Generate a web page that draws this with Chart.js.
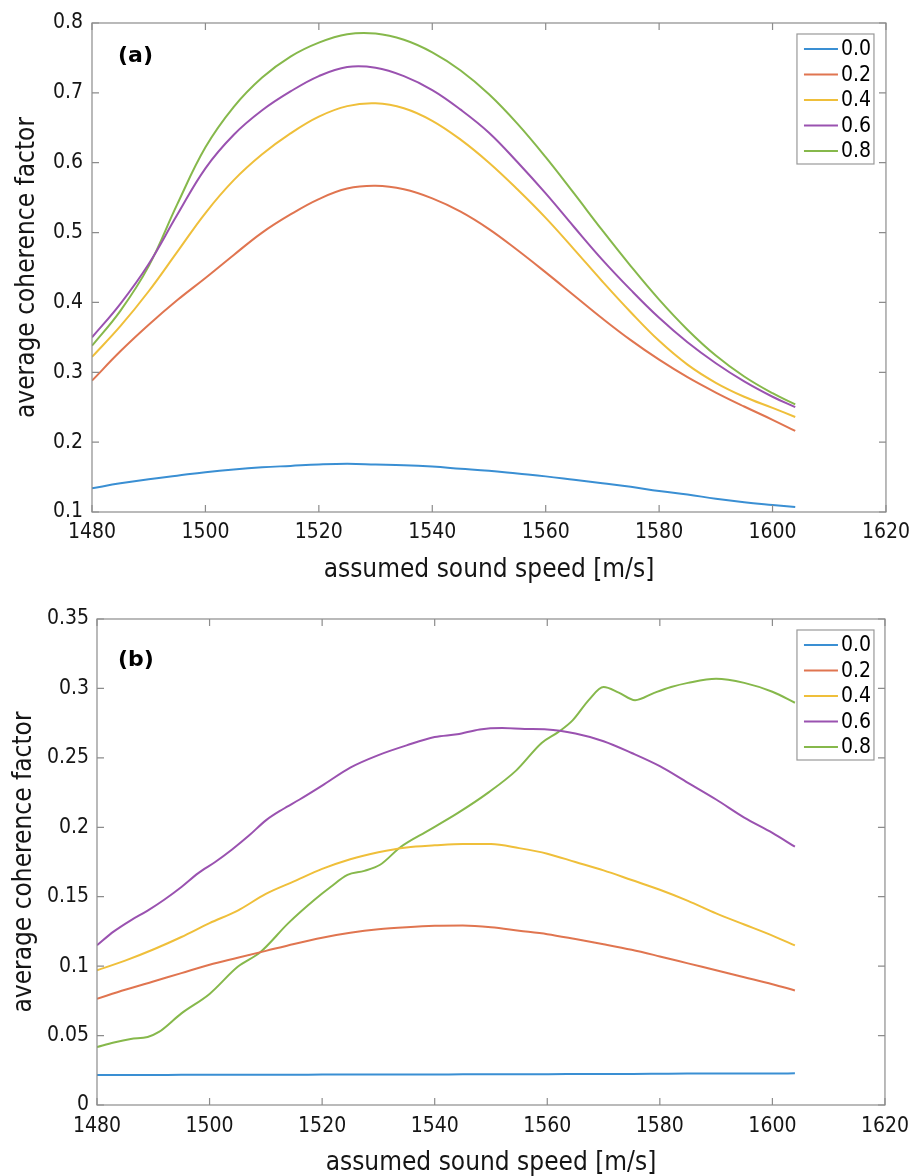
<!DOCTYPE html>
<html><head><meta charset="utf-8">
<script src="https://cdn.jsdelivr.net/npm/chart.js@4.4.1/dist/chart.umd.min.js"></script>
<style>
html,body{margin:0;padding:0;background:#fff;width:918px;height:1176px;overflow:hidden}
canvas{position:absolute;left:0}
</style></head>
<body>
<canvas id="ca" width="918" height="588" style="top:0"></canvas>
<canvas id="cb" width="918" height="588" style="top:588px"></canvas>
<script>
// ---------- data ----------
const seriesLabels = ['0.0', '0.2', '0.4', '0.6', '0.8'];
const seriesColors = ['#3a8fd3', '#e07550', '#efbf3a', '#9a52b0', '#86b84b'];
const xTicks = [1480, 1500, 1520, 1540, 1560, 1580, 1600, 1620];
const yTicksA = [0.1, 0.2, 0.3, 0.4, 0.5, 0.6, 0.7, 0.8];
const yTicksB = [0, 0.05, 0.1, 0.15, 0.2, 0.25, 0.3, 0.35];

// panel (a)
const speedsA = [1480,1485,1490,1495,1500,1505,1510,1515,1520,1525,1530,1535,1540,1545,1550,1555,1560,1565,1570,1575,1580,1585,1590,1595,1600,1604];
const cfA00 = [.134,.141,.147,.152,.157,.161,.164,.166,.168,.169,.168,.167,.165,.162,.159,.155,.151,.146,.141,.136,.130,.125,.119,.114,.110,.107];
const cfA02 = [.288,.330,.368,.403,.435,.468,.500,.526,.548,.563,.567,.562,.549,.530,.505,.475,.443,.410,.377,.346,.318,.293,.271,.251,.232,.216];
const cfA04 = [.322,.366,.416,.472,.528,.575,.612,.642,.666,.681,.685,.678,.660,.633,.600,.562,.521,.476,.430,.386,.345,.311,.285,.265,.249,.236];
const cfA06 = [.350,.398,.455,.525,.592,.640,.675,.702,.724,.737,.736,.724,.704,.676,.643,.601,.556,.508,.461,.418,.378,.343,.313,.287,.265,.250];
const cfA08 = [.338,.388,.452,.540,.622,.680,.722,.752,.772,.784,.785,.776,.758,.732,.698,.656,.608,.556,.503,.452,.404,.361,.324,.294,.270,.254];

// panel (b)
const speedsB = [1480,1485,1490,1495,1500,1505,1510,1515,1520,1525,1530,1535,1540,1545,1550,1555,1560,1565,1570,1575,1580,1585,1590,1595,1600,1604];
const cfB00 = [.0216,.0216,.0216,.0217,.0217,.0217,.0218,.0218,.0219,.0219,.022,.022,.022,.0221,.0221,.0222,.0222,.0223,.0224,.0224,.0225,.0226,.0226,.0227,.0227,.0228];
const cfB02 = [.0765,.083,.089,.095,.101,.106,.111,.116,.1205,.124,.1265,.128,.129,.1292,.128,.1255,.123,.1195,.1158,.1118,.107,.102,.097,.092,.087,.0825];
const cfB04 = [.097,.104,.112,.121,.131,.140,.152,.161,.170,.177,.182,.1855,.187,.188,.188,.185,.181,.175,.169,.162,.155,.147,.138,.130,.122,.115];
const speedsB06 = [1480,1483,1486,1489,1492,1495,1498,1501,1504,1507,1510,1513,1516,1520,1525,1530,1535,1540,1544,1548,1552,1556,1560,1565,1570,1575,1580,1585,1590,1595,1600,1604];
const cfB06 = [.115,.125,.133,.140,.148,.157,.167,.175,.184,.194,.205,.213,.220,.230,.243,.252,.259,.265,.267,.2705,.2715,.2708,.2705,.2675,.262,.2535,.244,.232,.220,.207,.196,.186];
const speedsB08 = [1480,1483,1486,1489,1491,1495,1500,1505,1509,1514,1518.7,1521.5,1524.5,1527.5,1530.3,1534,1539,1544,1549.7,1554.5,1559,1562,1564.5,1567.4,1570,1572.7,1575.6,1579,1582,1585,1590,1595,1600,1604];
const cfB08 = [.0418,.045,.0475,.049,.0526,.066,.080,.0995,.110,.131,.148,.157,.1657,.1686,.173,.186,.198,.210,.2255,.241,.2607,.2687,.277,.2918,.301,.297,.2915,.2968,.301,.304,.307,.304,.2976,.2897];

// ---------- helpers ----------
const FONT = "'DejaVu Sans Condensed', 'DejaVu Sans', sans-serif";
const TXT = '#151515';
const FRAME = '#8c8c8c';

function pts(xs, ys) { return xs.map((x, i) => ({x: x, y: ys[i]})); }
function ds(i, xs, ys, smooth) {
  const o = { label: seriesLabels[i], data: pts(xs, ys), borderColor: seriesColors[i],
           backgroundColor: seriesColors[i], borderWidth: 2, pointRadius: 0, fill: false };
  if (smooth) { o.tension = 0.4; } else { o.cubicInterpolationMode = 'monotone'; }
  return o;
}

const framePlugin = {
  id: 'frame',
  afterDatasetsDraw(chart, args, opts) {
    const ctx = chart.ctx;
    const {left, right, top, bottom} = chart.chartArea;
    const xs = chart.scales.x, ys = chart.scales.y;
    ctx.save();
    ctx.strokeStyle = FRAME; ctx.lineWidth = 1.2;
    ctx.strokeRect(left, top, right - left, bottom - top);
    const tl = 7;
    ctx.beginPath();
    xs.ticks.forEach(t => {
      const px = xs.getPixelForValue(t.value);
      ctx.moveTo(px, bottom); ctx.lineTo(px, bottom - tl);
      ctx.moveTo(px, top); ctx.lineTo(px, top + tl);
    });
    ys.ticks.forEach(t => {
      const py = ys.getPixelForValue(t.value);
      ctx.moveTo(left, py); ctx.lineTo(left + tl, py);
      ctx.moveTo(right, py); ctx.lineTo(right - tl, py);
    });
    ctx.stroke();

    // panel label
    ctx.fillStyle = '#000';
    ctx.font = "bold 22px 'DejaVu Sans', sans-serif";
    ctx.textAlign = 'left'; ctx.textBaseline = 'middle';
    ctx.fillText(opts.label, left + opts.lx, top + opts.ly);

    // legend
    const bw = 77, bh = 130, rowH = 25.5;
    const bx = right - opts.lgRight - bw, by = top + opts.lgTop;
    ctx.fillStyle = '#fff';
    ctx.fillRect(bx, by, bw, bh);
    ctx.strokeStyle = '#999'; ctx.lineWidth = 1.2;
    ctx.strokeRect(bx, by, bw, bh);
    ctx.font = '21px ' + FONT;
    chart.data.datasets.forEach((d, i) => {
      const cy = by + 15 + i * rowH;
      ctx.strokeStyle = d.borderColor; ctx.lineWidth = 2;
      ctx.beginPath(); ctx.moveTo(bx + 7, cy); ctx.lineTo(bx + 41, cy); ctx.stroke();
      ctx.fillStyle = '#000';
      ctx.fillText(d.label, bx + 44, cy + 1);
    });
    ctx.restore();
  }
};

function makeChart(id, datasets, yMin, yMax, yTicks, geo) {
  return new Chart(document.getElementById(id), {
    type: 'line',
    data: { datasets: datasets },
    plugins: [framePlugin],
    options: {
      responsive: false, animation: false,
      layout: { padding: { top: geo.top, right: geo.right, left: 0, bottom: 0 } },
      plugins: {
        legend: { display: false }, tooltip: { enabled: false },
        frame: { label: geo.label, lx: geo.lx, ly: geo.ly, lgRight: geo.lgRight, lgTop: geo.lgTop }
      },
      scales: {
        x: {
          type: 'linear', min: 1480, max: 1620,
          afterBuildTicks: s => { s.ticks = xTicks.map(v => ({value: v})); },
          afterFit: s => { s.height = geo.xh; },
          grid: { display: false, drawTicks: false }, border: { display: false },
          ticks: { padding: geo.xpad, color: TXT, font: { family: FONT, size: 21 },
                   maxRotation: 0, autoSkip: false, callback: v => String(v) },
          title: { display: true, text: 'assumed sound speed [m/s]', color: TXT,
                   font: { family: FONT, size: 26, lineHeight: 1 }, padding: { top: 0, bottom: geo.xtpad } }
        },
        y: {
          type: 'linear', min: yMin, max: yMax,
          afterBuildTicks: s => { s.ticks = yTicks.map(v => ({value: v})); },
          afterFit: s => { s.width = geo.yw; },
          grid: { display: false, drawTicks: false }, border: { display: false },
          ticks: { padding: geo.ypad, color: TXT, font: { family: FONT, size: 21 },
                   autoSkip: false, callback: v => String(+(+v).toFixed(2)) },
          title: { display: true, text: 'average coherence factor', color: TXT,
                   font: { family: FONT, size: 26, lineHeight: 1 }, padding: { top: geo.ytpad, bottom: 0 } }
        }
      }
    }
  });
}

makeChart('ca', [
  ds(0, speedsA, cfA00, true), ds(1, speedsA, cfA02, true), ds(2, speedsA, cfA04, true),
  ds(3, speedsA, cfA06, true), ds(4, speedsA, cfA08, true)
], 0.1, 0.8, yTicksA,
  { top: 23, right: 27, xh: 76, yw: 92, xpad: 8, xtpad: 5, ypad: 9, ytpad: 14,
    label: '(a)', lx: 26, ly: 33, lgRight: 12, lgTop: 11 });

makeChart('cb', [
  ds(0, speedsB, cfB00, false), ds(1, speedsB, cfB02, false), ds(2, speedsB, cfB04, false),
  ds(3, speedsB06, cfB06, false), ds(4, speedsB08, cfB08, false)
], 0, 0.35, yTicksB,
  { top: 31, right: 26, xh: 71, yw: 97, xpad: 9, xtpad: 0, ypad: 8, ytpad: 11,
    label: '(b)', lx: 21, ly: 41, lgRight: 11, lgTop: 11 });
</script>
</body></html>
